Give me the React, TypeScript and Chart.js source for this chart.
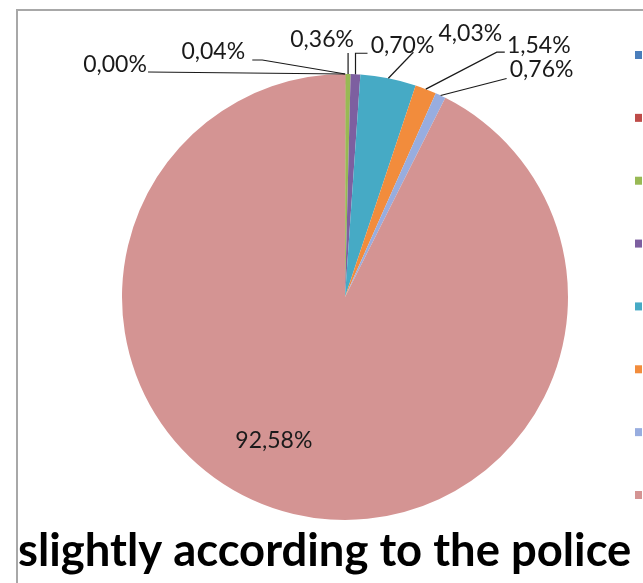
import React, { useEffect, useRef } from "react";
import { Chart, registerables } from "chart.js";

Chart.register(...registerables);

const categories = ["Series 1", "Series 2", "Series 3", "Series 4", "Series 5", "Series 6", "Series 7", "Series 8"];
const values = [0.0, 0.04, 0.36, 0.7, 4.03, 1.54, 0.76, 92.58];
const colors = ["#4A7EBB", "#BE4B48", "#98B954", "#7D5FA0", "#46AAC5", "#F28C3C", "#98ADDF", "#D49493"];
const titleText = "slightly according to the police";

// label placement styling (offsets relative to each slice's outer mid point)
const labelStyle = [
  { t: [-230, -9], path: [[-197, -2]] },
  { t: [-132, -22], path: [[-83, -14], [-93, -14]] },
  { t: [-26, -34], path: [[0, -21]] },
  { t: [47, -29], path: [[0, -21], [12, -21]] },
  { t: [82, -45], path: [[25, -26]] },
  { t: [113, -44], path: [[71, -37], [79, -37]] },
  { t: [101, -26], path: [[66, -17]] },
  { t: [-34, -13], path: [], inside: true },
];

const fmt = (v: number) => v.toFixed(2).replace(".", ",") + "%";

const decorPlugin = {
  id: "decor",
  beforeDraw(chart: any) {
    const ctx = chart.ctx;
    ctx.save();
    ctx.fillStyle = "#ffffff";
    ctx.fillRect(0, 0, chart.width, chart.height);
    ctx.strokeStyle = "#a8a8a8";
    ctx.lineWidth = 2;
    ctx.beginPath();
    ctx.moveTo(17, chart.height);
    ctx.lineTo(17, 10);
    ctx.lineTo(chart.width, 10);
    ctx.stroke();
    ctx.restore();
  },
  afterDraw(chart: any) {
    const ctx = chart.ctx;
    const meta = chart.getDatasetMeta(0);
    ctx.save();
    ctx.font = "23px Lato";
    ctx.textAlign = "center";
    ctx.textBaseline = "middle";
    meta.data.forEach((arc: any, i: number) => {
      const st = labelStyle[i];
      const a = (arc.startAngle + arc.endAngle) / 2;
      const r = st.inside ? arc.outerRadius * 0.72 : arc.outerRadius;
      const ax = arc.x + Math.cos(a) * r;
      const ay = arc.y + Math.sin(a) * r;
      if (st.path.length) {
        ctx.strokeStyle = "#1a1a1a";
        ctx.lineWidth = 1.2;
        ctx.beginPath();
        ctx.moveTo(ax, ay);
        st.path.forEach((p) => ctx.lineTo(ax + p[0], ay + p[1]));
        ctx.stroke();
      }
      ctx.fillStyle = "#1a1a1a";
      ctx.fillText(fmt(values[i]), ax + st.t[0], ay + st.t[1]);
    });
    // legend markers (labels fall outside the visible frame)
    const top = 55;
    const step = (495 - 55) / (categories.length - 1);
    categories.forEach((_, i) => {
      ctx.fillStyle = colors[i];
      ctx.fillRect(635, top + i * step - 4, 7, 8);
    });
    // title
    ctx.fillStyle = "#000000";
    ctx.textAlign = "left";
    ctx.textBaseline = "alphabetic";
    ctx.font = "bold 40px Lato";
    const w = ctx.measureText(titleText).width;
    const size = (40 * 614) / w;
    ctx.font = `bold ${size.toFixed(1)}px Lato`;
    ctx.fillText(titleText, 18, 566);
    ctx.restore();
  },
};

export default function App() {
  const ref = useRef<HTMLCanvasElement | null>(null);
  useEffect(() => {
    if (!ref.current) return;
    const chart = new Chart(ref.current, {
      type: "pie",
      data: {
        labels: categories,
        datasets: [
          {
            data: values,
            backgroundColor: colors,
            borderWidth: 0,
          },
        ],
      },
      options: {
        responsive: false,
        animation: false,
        layout: { padding: { left: 122, right: 75, top: 74, bottom: 63 } },
        plugins: {
          legend: { display: false },
          tooltip: { enabled: false },
          title: { display: false },
        },
      },
      plugins: [decorPlugin],
    });
    return () => chart.destroy();
  }, []);
  return (
    <div style={{ position: "absolute", left: 0, top: 0, width: 643, height: 583, overflow: "hidden" }}>
      <canvas ref={ref} width={643} height={583} style={{ display: "block" }} />
    </div>
  );
}
